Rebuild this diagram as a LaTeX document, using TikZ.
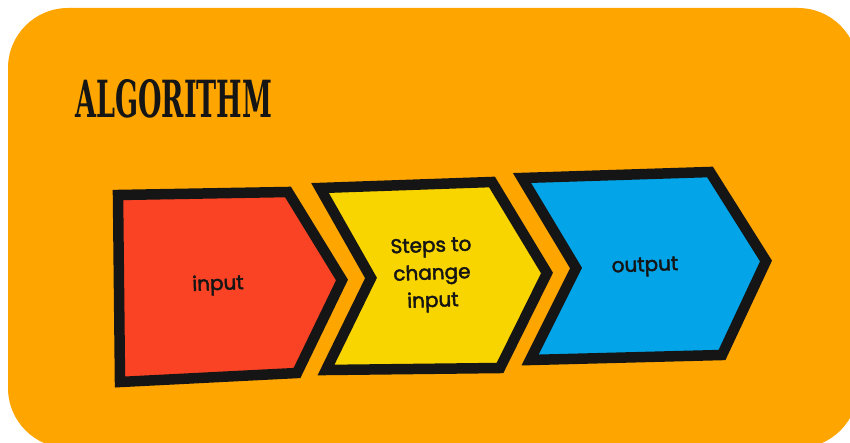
\documentclass[tikz,border=0pt]{standalone}
\usepackage{fontspec}
\setmainfont{Poppins}
\newfontfamily\lblfont{Poppins}[FakeBold=2.2]
\newfontfamily\titlefont{DejaVu Serif Condensed}[BoldFont={DejaVu Serif Condensed Bold}]
\definecolor{bgorange}{HTML}{FFA500}
\definecolor{redc}{HTML}{FA4325}
\definecolor{yellowc}{HTML}{F9D500}
\definecolor{bluec}{HTML}{03A4E8}
\definecolor{inkc}{HTML}{151515}
\begin{document}
\begin{tikzpicture}[x=1pt,y=-1pt,
  chev/.style={draw=inkc,line width=10.5pt,line join=miter,miter limit=4},
  lbl/.style={font=\lblfont\fontsize{20}{27.5}\selectfont,text=inkc,align=center,rotate=2,inner sep=0pt}]
\useasboundingbox (0,0) rectangle (850,443);
\fill[white] (0,0) rectangle (850,443);
\fill[bgorange,rounded corners=60pt] (8,8) rectangle (858,448);
\node[anchor=south west,inner sep=0pt,text=inkc] (title) at (75,118)
  {\resizebox{197pt}{38pt}{\titlefont\bfseries ALGORITHM}};
\draw[chev,fill=redc] (118,195) -- (288,192) -- (342,280) -- (297,373) -- (120,382) -- cycle;
\draw[chev,fill=yellowc] (320,188) -- (492,182) -- (547,273) -- (500,368) -- (326,370) -- (371,278) -- cycle;
\draw[chev,fill=bluec] (522,178) -- (710,172) -- (766,261) -- (722,355) -- (530,360) -- (576,268) -- cycle;
\node[lbl] (in) at (218,285) {input};
\node[lbl] (steps) at (432,275) {Steps to\\change\\input};
\node[lbl] (out) at (645,267) {output};
\end{tikzpicture}
\end{document}
